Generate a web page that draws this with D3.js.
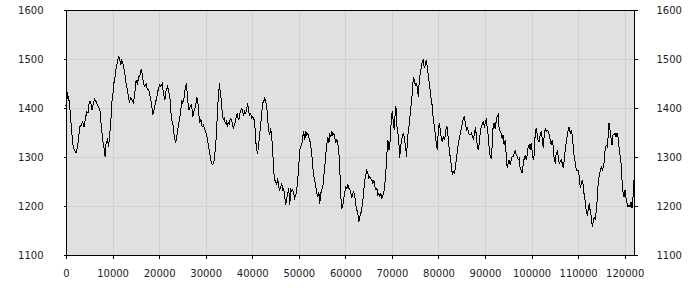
<!DOCTYPE html>
<html>
<head>
<meta charset="utf-8">
<script src="https://cdn.jsdelivr.net/npm/d3@7"></script>
<style>
  body { margin: 0; background: #fff; }
  text { font-family: 'DejaVu Sans', sans-serif; font-size: 10px; fill: #222; }
</style>
</head>
<body>
<div id="chart"></div>
<script>
// sample positions and readings
var sampleX = [0,120,351,566,853,1140,1427,1786,2145,2503,2718,3005,3292,3579,3866,4153,4440,4727,5014,5301,5588,5874,6161,6448,6735,7022,7309,7596,7883,8170,8385,8600,8887,9174,9318,9604,9820,10035,10250,10465,10752,10967,11182,11326,11541,11756,11972,12187,12402,12617,12904,13191,13406,13621,13908,14195,14482,14769,15056,15343,15630,15917,16132,16347,16634,16921,17208,17495,17782,18069,18355,18642,18929,19216,19503,19790,20077,20364,20651,20938,21225,21512,21799,22086,22373,22660,22946,23233,23520,23807,24094,24381,24668,24883,25098,25385,25672,25887,26102,26389,26676,26963,27250,27537,27824,28111,28398,28685,28972,29259,29546,29833,30120,30407,30694,
  30982,31198,31413,31628,31843,32058,32274,32489,32704,32847,32991,33134,33349,33565,33780,33995,34210,34425,34641,34856,35071,35286,35501,35717,35932,36147,36362,36577,36792,37008,37223,37438,37725,37940,38155,38371,38586,38801,39016,39232,39447,39662,39877,40092,40308,40523,40738,40953,41168,41384,41599,41814,42029,42244,42459,42675,42890,43105,43320,43535,43751,43966,44181,44396,44611,
  44826,45041,45256,45471,45687,45902,46117,46332,46547,46763,46978,47193,47408,47623,47839,48054,48269,48484,48699,48915,49130,49345,49560,49775,49991,50206,50421,50636,50851,51066,51282,51497,51712,51927,52142,52358,52573,52788,53003,53218,53434,53649,53864,54079,54294,54510,54725,54940,55155,55370,55586,55801,56016,56231,56446,56662,56877,57092,57307,57522,57738,57953,58168,58383,58598,58813,59029,59244,59459,59674,59889,60105,60320,60535,60750,60965,61181,61396,61611,61826,62041,62257,62472,62687,62902,63117,63333,63548,63763,63978,64193,64409,64624,64839,65054,65269,65485,65700,65915,66130,66345,66561,66776,66991,67206,67421,
  67637,67852,68067,68282,68498,68713,68928,69143,69358,69574,69789,70004,70147,70291,70506,70721,70864,71080,71295,71510,71654,71869,72084,72299,72514,72730,72945,73160,73375,73590,73806,74021,74236,74451,74594,74810,75025,75240,75455,75670,75886,76101,76316,76531,76746,76962,77177,77392,77607,77822,78038,78253,78468,78683,78898,79114,79329,79544,79759,79974,80190,80405,80620,80835,81050,81266,81481,81696,81911,82126,82342,82557,82772,82987,83202,83418,83633,83848,84063,84278,84494,84709,84924,85139,85354,85570,85785,86000,86215,86430,86646,86861,87076,87291,87506,87722,87937,88152,88367,88582,88798,89013,89228,89443,89658,89874,90089,90304,90519,90734,90950,
  91094,91309,91524,91739,91955,92170,92385,92600,92815,93031,93246,93461,93676,93891,94107,94322,94537,94752,94967,95183,95398,95613,95828,96043,96259,96474,96689,96904,97119,97335,97550,97765,97980,98195,98411,98626,98841,99056,99271,99487,99702,99917,100132,100347,100563,100778,100993,101208,101423,101639,101854,102069,102284,102499,102715,102930,103145,103360,103575,103791,104006,104221,104436,104651,104867,105082,105297,105512,105727,105943,106158,106373,106588,106803,107019,107234,107449,107664,107879,108095,108310,108525,108740,108955,109171,109386,109601,109816,110031,110247,110462,110677,110892,111107,111323,111538,111753,111968,112183,112399,112614,112829,113044,113259,113475,113690,113905,114120,114335,114551,114766,114981,115196,115411,115627,115842,116057,116272,116487,116631,116846,117061,117276,117491,117707,117922,118137,118352,118567,118783,118998,119213,119428,119643,119859,120074,120289,120504,120719,120935,121150,121365,121580,121795,122000];

var sampleY = [1405,1440,1420,1423,1396,1362,1328,1314,1309,1321,1342,1362,1365,1372,1362,1376,1393,1390,1413,1413,1396,1410,1418,1413,1406,1403,1393,1362,1335,1318,1301,1328,1335,1321,1342,1365,1410,1423,1450,1457,1481,1491,1501,1505,1498,1488,1498,1493,1484,1471,1450,1437,1423,1413,1420,1416,1410,1430,1457,1450,1464,1467,1479,1471,1450,1444,1450,1437,1437,1423,1410,1386,1396,1410,1423,1437,1447,1444,1450,1430,1416,1437,1444,1433,1416,1376,1369,1345,1328,1342,1362,1376,1396,1416,1410,1423,1444,1450,1420,1396,1403,1406,1382,1396,1403,1423,1406,1369,1376,1362,1365,1355,1348,1335,1318,
  1301,1290,1284,1287,1294,1314,1342,1382,1423,1437,1450,1430,1416,1389,1376,1379,1369,1372,1362,1372,1365,1379,1376,1369,1359,1365,1372,1382,1389,1376,1379,1393,1399,1393,1386,1393,1389,1396,1410,1393,1386,1389,1379,1382,1379,1372,1335,1314,1307,1325,1348,1365,1389,1410,1413,1420,1413,1406,1376,1355,1345,1359,1342,1314,1270,
  1253,1250,1243,1256,1239,1233,1239,1246,1233,1236,1219,1202,1216,1226,1236,1202,1233,1229,1233,1226,1216,1222,1233,1253,1280,1314,1321,1324,1341,1352,1335,1352,1345,1348,1341,1335,1321,1307,1280,1260,1253,1239,1226,1219,1229,1205,1226,1233,1239,1260,1280,1307,1324,1341,1328,1345,1341,1352,1345,1348,1338,1331,1335,1328,1311,1273,1219,1195,1202,1216,1229,1239,1236,1243,1236,1233,1226,1216,1226,1229,1219,1202,1192,1185,1168,1178,1185,1195,1212,1233,1253,1263,1273,1267,1256,1260,1256,1253,1246,1253,1239,1233,1236,1222,1226,1219,
  1226,1216,1222,1229,1246,1273,1307,1335,1314,1328,1362,1389,1393,1369,1355,1393,1403,1362,1348,1328,1297,1321,1335,1345,1348,1335,1321,1301,1342,1355,1376,1396,1416,1437,1464,1457,1447,1450,1444,1423,1457,1471,1484,1495,1498,1481,1488,1498,1484,1467,1450,1433,1416,1403,1376,1362,1345,1328,1314,1355,1369,1355,1338,1331,1342,1335,1345,1362,1359,1335,1314,1297,1284,1263,1270,1267,1277,1297,1311,1328,1338,1348,1359,1369,1379,1382,1369,1355,1359,1352,1345,1345,1348,1342,1338,1345,1362,1342,1321,1314,1331,1355,1362,1369,1372,1359,1372,1376,1355,1342,1307,
  1304,1297,1321,1362,1369,1358,1372,1382,1386,1358,1352,1348,1338,1345,1324,1335,1307,1277,1287,1294,1284,1294,1301,1301,1307,1314,1304,1301,1294,1297,1277,1273,1267,1284,1297,1304,1294,1304,1321,1324,1314,1328,1311,1294,1304,1348,1358,1348,1331,1331,1345,1352,1338,1318,1345,1358,1352,1355,1352,1345,1335,1324,1335,1321,1294,1290,1307,1311,1301,1287,1290,1294,1287,1277,1294,1314,1331,1345,1355,1362,1348,1355,1345,1321,1297,1290,1273,1273,1273,1260,1236,1246,1253,1243,1219,1209,1188,1182,1192,1205,1188,1178,1158,1168,1178,1171,1192,1216,1253,1263,1273,1280,1273,1280,1290,1321,1324,1321,1348,1369,1355,1338,1324,1345,1345,1348,1341,1348,1341,1321,1304,1287,1253,1229,1219,1233,1216,1205,1198,1202,1198,1209,1195,1219,1253];

var xTicks = [0,10000,20000,30000,40000,50000,60000,70000,80000,90000,100000,110000,120000];
var yTicks = [1100,1200,1300,1400,1500,1600];

var points = sampleX.map(function(x, i){ return {x: x, y: sampleY[i]}; });

var width = 700,
	height = 300,
	plotL = 66, plotR = 634, plotT = 10, plotB = 255;

var svg = d3.select('#chart').append('svg')
	.attr('width', width)
	.attr('height', height);

var x = d3.scaleLinear().domain([0, 122000]).range([plotL, plotR]);
var y = d3.scaleLinear().domain([1100, 1600]).range([plotB, plotT]);

// plot background
svg.append('rect')
	.attr('x', plotL).attr('y', plotT)
	.attr('width', plotR - plotL).attr('height', plotB - plotT)
	.attr('fill', '#e0e0e0');

// grid
var grid = svg.append('g').attr('shape-rendering', 'crispEdges');
grid.selectAll('.vg').data(xTicks).enter().append('line')
	.attr('x1', function(d){ return Math.round(x(d)) + 0.5; })
	.attr('x2', function(d){ return Math.round(x(d)) + 0.5; })
	.attr('y1', plotT).attr('y2', plotB)
	.attr('stroke', '#d0d0d0');
grid.selectAll('.hg').data(yTicks).enter().append('line')
	.attr('y1', function(d){ return Math.round(y(d)) + 0.5; })
	.attr('y2', function(d){ return Math.round(y(d)) + 0.5; })
	.attr('x1', plotL).attr('x2', plotR)
	.attr('stroke', '#d0d0d0');

// data line (aliased, like the original)
var line = d3.line()
	.x(function(d){ return x(d.x); })
	.y(function(d){ return y(d.y); });

svg.append('path')
	.datum(points)
	.attr('d', line)
	.attr('fill', 'none')
	.attr('stroke', '#000')
	.attr('stroke-width', 1)
	.attr('shape-rendering', 'crispEdges');

// axes
function styleAxis(g){
	g.select('.domain').remove();
	g.selectAll('.tick line').attr('stroke', '#000').attr('shape-rendering', 'crispEdges');
	g.selectAll('.tick text').attr('fill', '#222').style('font-size', '10px');
}

svg.append('g')
	.attr('transform', 'translate(0,' + (plotB + 0.5) + ')')
	.call(d3.axisBottom(x).tickValues(xTicks).tickFormat(d3.format('d')).tickSize(3).tickPadding(11))
	.call(styleAxis);

svg.append('g')
	.attr('transform', 'translate(' + (plotL + 0.5) + ',0)')
	.call(d3.axisLeft(y).tickValues(yTicks).tickFormat(d3.format('d')).tickSize(3).tickPadding(20))
	.call(styleAxis);

svg.append('g')
	.attr('transform', 'translate(' + (plotR + 0.5) + ',0)')
	.call(d3.axisRight(y).tickValues(yTicks).tickFormat(d3.format('d')).tickSize(3).tickPadding(19))
	.call(styleAxis);

// frame
svg.append('rect')
	.attr('x', plotL + 0.5).attr('y', plotT + 0.5)
	.attr('width', plotR - plotL).attr('height', plotB - plotT)
	.attr('fill', 'none')
	.attr('stroke', '#000')
	.attr('shape-rendering', 'crispEdges');
</script>
</body>
</html>
